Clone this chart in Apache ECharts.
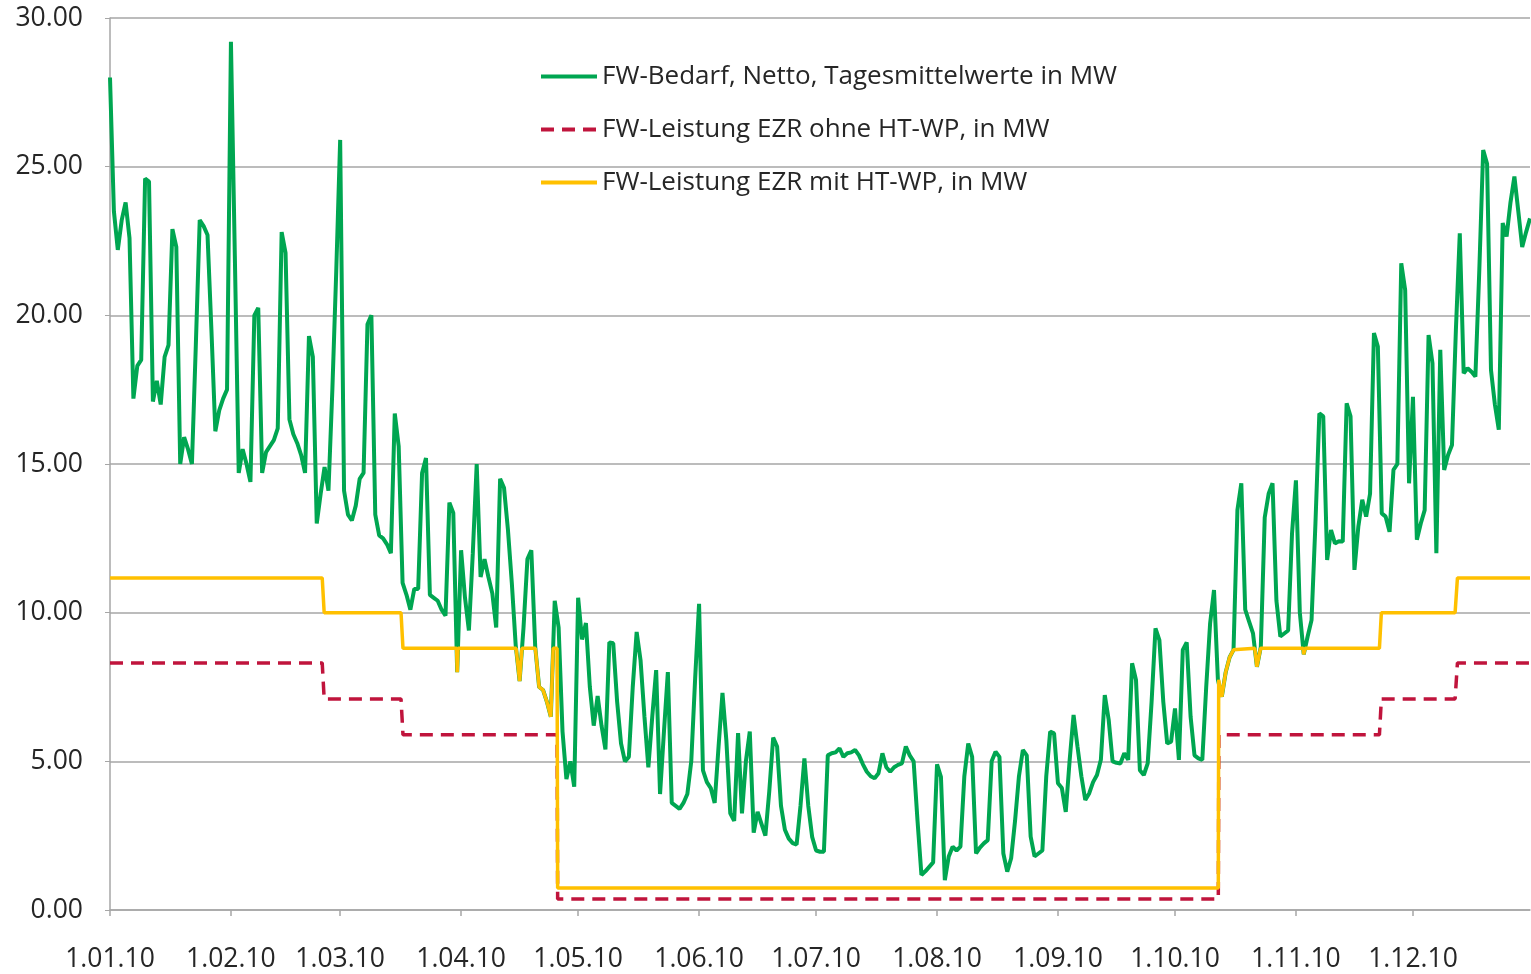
<!DOCTYPE html>
<html>
<head>
<meta charset="utf-8">
<script src="https://cdn.jsdelivr.net/npm/echarts@6/dist/echarts.min.js"></script>
<style>
html,body{margin:0;padding:0;background:#ffffff;}
#chart{width:1531px;height:974px;}
</style>
</head>
<body>
<div id="chart"></div>
<script>
// ---- data ----
const monthLengths = [31,28,31,30,31,30,31,31,30,31,30,31];
const yearSuffix = '10';

// FW-Bedarf, Netto, Tagesmittelwerte in MW (daily values 2010, one array per month)
const bedarfJan = [28.0,23.5,22.2,23.2,23.8,22.6,17.2,18.3,18.5,24.6,24.5,17.1,17.8,17.0,18.6,19.0,22.9,22.3,15.0,15.9,15.5,15.0,19.0,23.2,23.0,22.7,19.5,16.1,16.8,17.2,17.5];
const bedarfFeb = [29.2,22.0,14.7,15.5,15.0,14.4,20.0,20.25,14.7,15.4,15.6,15.8,16.2,22.8,22.1,16.5,16.0,15.7,15.3,14.7,19.3,18.6,13.0,14.0,14.9,14.1,17.5,21.5];
const bedarfMar = [25.9,14.1,13.3,13.1,13.6,14.5,14.7,19.7,20.0,13.3,12.6,12.5,12.3,12.0,16.7,15.6,11.0,10.6,10.1,10.8,10.8,14.7,15.2,10.6,10.5,10.4,10.1,9.9,13.7,13.35,8.0];
const bedarfApr = [12.1,10.5,9.4,12.0,15.0,11.2,11.8,11.2,10.65,9.5,14.5,14.2,12.8,11.0,8.9,7.7,9.5,11.8,12.1,8.85,7.5,7.4,7.0,6.5,10.4,9.5,6.0,4.4,5.0,4.15];
const bedarfMay = [10.5,9.1,9.65,7.5,6.2,7.2,6.2,5.4,9.0,8.97,7.0,5.6,5.0,5.15,7.5,9.35,8.4,6.5,4.8,6.5,8.07,3.9,6.0,8.0,3.6,3.5,3.4,3.6,3.9,5.0,7.8];
const bedarfJun = [10.3,4.7,4.3,4.1,3.6,5.5,7.3,5.7,3.25,3.0,5.95,3.25,5.0,6.0,2.6,3.3,2.9,2.5,4.0,5.8,5.5,3.5,2.7,2.4,2.25,2.2,3.5,5.1,3.5,2.45];
const bedarfJul = [2.0,1.96,1.96,5.2,5.27,5.3,5.44,5.15,5.27,5.3,5.38,5.2,4.9,4.65,4.5,4.43,4.6,5.27,4.8,4.65,4.8,4.88,4.93,5.5,5.2,5.0,3.0,1.18,1.3,1.45,1.6];
const bedarfAug = [4.9,4.48,1.0,1.8,2.13,2.0,2.13,4.5,5.6,5.15,1.9,2.1,2.24,2.35,5.0,5.32,5.15,1.9,1.29,1.74,3.0,4.5,5.38,5.2,2.47,1.8,1.9,2.0,4.5,6.0,5.94];
const bedarfSep = [4.26,4.1,3.3,5.05,6.56,5.5,4.5,3.7,3.92,4.3,4.54,5.05,7.23,6.4,5.0,4.95,4.93,5.27,5.05,8.3,7.74,4.7,4.54,4.93,7.0,9.47,9.08,7.0,5.6,5.66];
const bedarfOct = [6.78,5.05,8.75,9.0,6.5,5.2,5.1,5.05,7.5,9.64,10.76,7.74,7.17,8.0,8.5,8.75,13.45,14.35,10.1,9.7,9.3,8.18,8.85,13.2,14.0,14.35,10.4,9.2,9.3,9.4,12.67];
const bedarfNov = [14.45,10.0,8.6,9.2,9.75,13.0,16.7,16.6,11.77,12.78,12.33,12.4,12.39,17.04,16.6,11.44,12.9,13.8,13.23,14.0,19.4,18.95,13.34,13.23,12.72,14.8,15.0,21.75,20.85,14.35];
const bedarfDec = [17.26,12.45,13.0,13.45,19.34,18.39,12.0,18.84,14.8,15.3,15.64,19.5,22.76,18.05,18.22,18.1,17.94,21.5,25.56,25.1,18.16,17.0,16.15,23.1,22.65,23.8,24.67,23.5,22.3,22.8,23.26];

// FW-Leistung EZR ohne HT-WP, in MW : [day index, MW]
const ohneHT = [[0,8.31],[54.4,8.31],[54.9,7.1],[74.6,7.1],[75.1,5.89],[114.6,5.89],[114.75,0.37],[284.1,0.37],[284.25,5.89],[325.4,5.89],[325.9,7.1],[344.8,7.1],[345.4,8.31],[364,8.31]];

// FW-Leistung EZR mit HT-WP, in MW : [day index, MW]
const mitHT = [[0,11.17],[54.4,11.17],[54.9,10.0],[74.6,10.0],[75.1,8.8],
  [88.85,8.8],[89,8.0],[89.2,8.8],
  [104.1,8.8],[105,7.7],[105.6,8.8],
  [109.04,8.8],[110,7.5],[111,7.4],[112,7.0],[113,6.5],[113.6,8.8],
  [114.6,8.8],[114.75,0.74],[284.1,0.74],[284.2,7.74],[285,7.17],[286,8.0],[287,8.5],[288,8.75],[288.1,8.8],
  [293.45,8.8],[294,8.18],[294.93,8.8],
  [305.86,8.8],[306,8.6],[306.33,8.8],
  [325.4,8.8],[325.9,10.0],[344.8,10.0],[345.4,11.17],[364,11.17]];

const yMin = 0, yMax = 30, yStep = 5;
const seriesNames = ['FW-Bedarf, Netto, Tagesmittelwerte in MW','FW-Leistung EZR ohne HT-WP, in MW','FW-Leistung EZR mit HT-WP, in MW'];

// ---- build ----
const categories = [];
const monthStart = {};
monthLengths.forEach((len, m) => {
  for (let d = 1; d <= len; d++) {
    const name = d + '.' + String(m + 1).padStart(2, '0') + '.' + yearSuffix;
    if (d === 1) monthStart[categories.length] = true;
    categories.push(name);
  }
});
const bedarf = [].concat(bedarfJan,bedarfFeb,bedarfMar,bedarfApr,bedarfMay,bedarfJun,bedarfJul,bedarfAug,bedarfSep,bedarfOct,bedarfNov,bedarfDec);

const FONT = '"Open Sans", "Liberation Sans", sans-serif';
const chart = echarts.init(document.getElementById('chart'), null, {renderer: 'canvas'});
chart.setOption({
  animation: false,
  backgroundColor: '#ffffff',
  grid: {left: 110, right: 1, top: 18, bottom: 64, containLabel: false, outerBoundsMode: 'none'},
  legend: {
    orient: 'vertical', left: 534, top: 56,
    itemWidth: 56, itemHeight: 14, itemGap: 22,
    itemStyle: {opacity: 0},
    lineStyle: {width: 4},
    textStyle: {fontFamily: FONT, fontSize: 26, color: '#262626', lineHeight: 31},
    data: seriesNames
  },
  xAxis: [{
    type: 'category', data: categories, boundaryGap: false,
    axisLine: {show: true, lineStyle: {color: '#a6a6a6', width: 1.5}},
    axisTick: {show: true, length: 6, lineStyle: {color: '#a6a6a6', width: 1.5},
      interval: (i) => !!monthStart[i]},
    axisLabel: {interval: (i) => !!monthStart[i], margin: 36,
      fontFamily: FONT, fontSize: 26.5, color: '#262626'},
    splitLine: {show: false}
  }, {
    type: 'value', min: 0, max: 364, show: false
  }],
  yAxis: {
    type: 'value', min: yMin, max: yMax, interval: yStep,
    axisLine: {show: true, lineStyle: {color: '#a6a6a6', width: 1.5}},
    axisTick: {show: true, length: 5, lineStyle: {color: '#a6a6a6'}},
    axisLabel: {formatter: (v) => v.toFixed(2), margin: 27,
      fontFamily: FONT, fontSize: 26.5, color: '#262626'},
    splitLine: {show: true, lineStyle: {color: '#a6a6a6', width: 1.5}}
  },
  series: [{
    name: seriesNames[0], type: 'line', xAxisIndex: 0, data: bedarf,
    symbol: 'none', lineStyle: {color: '#00a651', width: 4}, itemStyle: {color: '#00a651'}, z: 2
  }, {
    name: seriesNames[1], type: 'line', xAxisIndex: 1, data: ohneHT,
    symbol: 'none', lineStyle: {color: '#c0143c', width: 3.5, type: [13, 8]}, itemStyle: {color: '#c0143c'}, z: 3
  }, {
    name: seriesNames[2], type: 'line', xAxisIndex: 1, data: mitHT,
    symbol: 'none', lineStyle: {color: '#ffc000', width: 3.5}, itemStyle: {color: '#ffc000'}, z: 4
  }]
});
</script>
</body>
</html>
